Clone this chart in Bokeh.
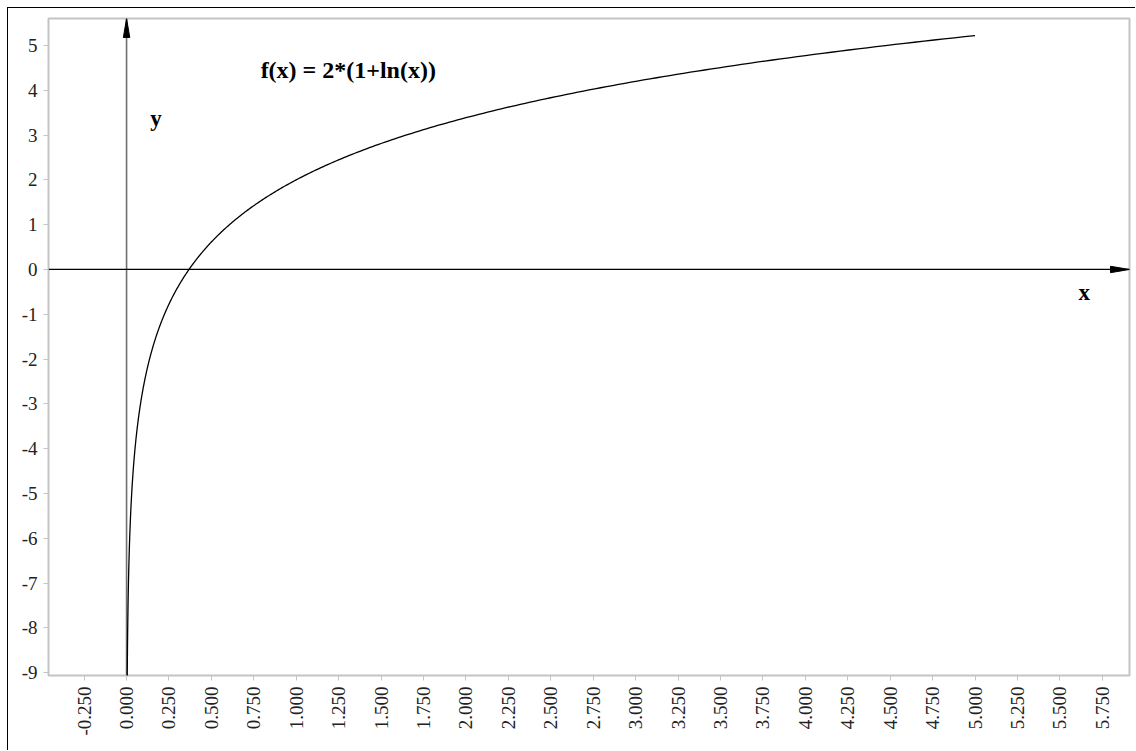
import math
import numpy as np
from bokeh.plotting import figure
from bokeh.models import FixedTicker, NumeralTickFormatter, CustomJSTickFormatter, Range1d
from bokeh.core.properties import value
from bokeh.embed import file_html
from bokeh.resources import INLINE

# Function being plotted: f(x) = 2*(1+ln(x))
formula_label = "f(x) = 2*(1+ln(x))"
x_start, x_end = 0.003, 5.0
curve_x = np.geomspace(x_start, x_end, 600)
curve_y = 2.0 * (1.0 + np.log(curve_x))

x_ticks = [-0.25, 0.0, 0.25, 0.5, 0.75, 1.0, 1.25, 1.5, 1.75, 2.0, 2.25, 2.5, 2.75,
           3.0, 3.25, 3.5, 3.75, 4.0, 4.25, 4.5, 4.75, 5.0, 5.25, 5.5, 5.75]
y_ticks = [-9, -8, -7, -6, -5, -4, -3, -2, -1, 0, 1, 2, 3, 4, 5]

X_MIN, X_MAX = -0.46, 5.91
Y_MIN, Y_MAX = -9.06, 5.6

# canvas sits inside a page frame offset by 7px (plus 1px border)
W, H = 1128, 743
BL, BR, BT, BB = 40, 7, 10, 76
FW, FH = W - BL - BR, H - BT - BB
px_x = (X_MAX - X_MIN) / FW   # data units per pixel, x
px_y = (Y_MAX - Y_MIN) / FH   # data units per pixel, y

SERIF = "Liberation Serif"

p = figure(width=W, height=H, output_backend="svg", toolbar_location=None,
           x_range=Range1d(X_MIN, X_MAX), y_range=Range1d(Y_MIN, Y_MAX),
           min_border_left=BL, min_border_right=BR, min_border_top=BT,
           min_border_bottom=BB)
p.margin = (7, 0, 0, 7)
p.styles = {"border-left": "1px solid black", "border-top": "1px solid black"}
p.grid.visible = False
p.background_fill_color = "white"
p.border_fill_color = "white"
p.outline_line_color = "#c4c4c4"
p.outline_line_width = 2

for ax in (p.xaxis[0], p.yaxis[0]):
    ax.axis_line_color = None
    ax.major_tick_line_color = "#c4c4c4"
    ax.major_tick_line_width = 1
    ax.major_tick_out = 5
    ax.major_tick_in = 0
    ax.minor_tick_line_color = None
    ax.major_label_text_color = "#222222"
    ax.major_label_text_font = SERIF
    ax.major_label_text_font_size = "19px"
    ax.major_label_standoff = 6

p.xaxis.ticker = FixedTicker(ticks=x_ticks)
p.xaxis.formatter = NumeralTickFormatter(format="0.000")
p.xaxis.major_label_orientation = math.pi / 2

p.yaxis.ticker = FixedTicker(ticks=y_ticks)
p.yaxis.formatter = CustomJSTickFormatter(code="return tick.toFixed(0);")

# coordinate axes through the origin with arrowheads
p.line([0, 0], [Y_MIN, Y_MAX], line_color="#707070", line_width=1.6)
p.line([X_MIN, X_MAX], [0, 0], line_color="black", line_width=1.2)

head_len, head_half = 19, 3.2
p.patch([0 - head_half * px_x, 0, 0 + head_half * px_x],
        [Y_MAX - head_len * px_y, Y_MAX, Y_MAX - head_len * px_y],
        fill_color="black", line_color="black", line_width=1)
p.patch([X_MAX - head_len * px_x, X_MAX, X_MAX - head_len * px_x],
        [0 - head_half * px_y, 0, 0 + head_half * px_y],
        fill_color="black", line_color="black", line_width=1)

# the function curve
p.line(curve_x, curve_y, line_color="black", line_width=1.3)

# labels
p.text(x=[0.79], y=[4.46], text=[formula_label], text_font=value(SERIF),
       text_font_style="bold", text_font_size="24px", text_baseline="middle",
       text_align="left", text_color="black")
p.text(x=[0.14], y=[3.37], text=["y"], text_font=value(SERIF),
       text_font_style="bold", text_font_size="23px", text_baseline="middle",
       text_align="left", text_color="black")
p.text(x=[5.61], y=[-0.52], text=["x"], text_font=value(SERIF),
       text_font_style="bold", text_font_size="23px", text_baseline="middle",
       text_align="left", text_color="black")

open("out.html", "w").write(file_html(p, INLINE))
